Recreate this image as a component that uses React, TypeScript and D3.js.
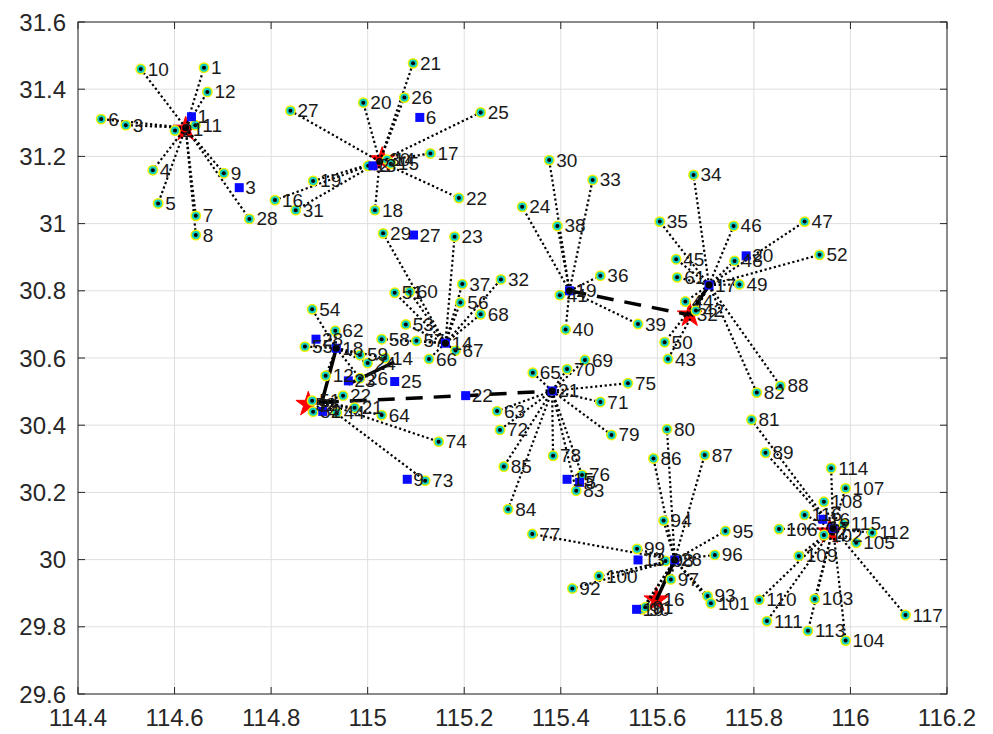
import React from 'react'
import * as d3 from 'd3'

const WIDTH = 993
const HEIGHT = 734
const margin = { top: 22, right: 46, bottom: 40, left: 78 }

type Site = [string, number, number]

const xTicks = [114.4, 114.6, 114.8, 115, 115.2, 115.4, 115.6, 115.8, 116, 116.2]
const xTickLabels = ['114.4', '114.6', '114.8', '115', '115.2', '115.4', '115.6', '115.8', '116', '116.2']
const yTicks = [29.6, 29.8, 30, 30.2, 30.4, 30.6, 30.8, 31, 31.2, 31.4, 31.6]
const yTickLabels = ['29.6', '29.8', '30', '30.2', '30.4', '30.6', '30.8', '31', '31.2', '31.4', '31.6']

// where the dotted lines of each group meet
const hubLon = [114.623, 115.025, 115.418, 115.707, 115.161, 114.935, 114.905, 115.382, 115.636, 115.964]
const hubLat = [31.285, 31.185, 30.8, 30.817, 30.644, 30.629, 30.468, 30.502, 29.999, 30.093]

// members of each group: label, lon, lat
const group1: Site[] = [
  ['1', 114.661, 31.464], ['2', 114.601, 31.277], ['3', 114.499, 31.293], ['4', 114.555, 31.159],
  ['5', 114.566, 31.06], ['6', 114.448, 31.311], ['7', 114.644, 31.023], ['8', 114.644, 30.966],
  ['9', 114.702, 31.15], ['10', 114.53, 31.46], ['11', 114.643, 31.293], ['12', 114.668, 31.392],
  ['28', 114.755, 31.014],
]
const group2: Site[] = [
  ['13', 115.001, 31.172], ['14', 115.04, 31.19], ['15', 115.048, 31.178], ['16', 114.808, 31.07],
  ['17', 115.13, 31.209], ['18', 115.015, 31.04], ['19', 114.887, 31.127], ['20', 114.991, 31.36],
  ['21', 115.094, 31.477], ['22', 115.189, 31.076], ['25', 115.234, 31.331], ['26', 115.076, 31.375],
  ['27', 114.84, 31.336], ['31', 114.851, 31.04],
]
const group3: Site[] = [
  ['24', 115.32, 31.05], ['30', 115.376, 31.189], ['33', 115.466, 31.13], ['36', 115.482, 30.845],
  ['38', 115.393, 30.993], ['39', 115.56, 30.701], ['40', 115.41, 30.685], ['41', 115.398, 30.787],
]
const group4: Site[] = [
  ['34', 115.675, 31.145], ['35', 115.605, 31.006], ['42', 115.68, 30.741], ['43', 115.622, 30.597],
  ['44', 115.658, 30.768], ['45', 115.639, 30.894], ['46', 115.758, 30.993], ['47', 115.905, 31.006],
  ['48', 115.76, 30.889], ['49', 115.77, 30.819], ['50', 115.615, 30.647], ['52', 115.936, 30.907],
  ['61', 115.641, 30.84], ['82', 115.806, 30.497], ['88', 115.855, 30.517],
]
const group5: Site[] = [
  ['23', 115.18, 30.961], ['29', 115.032, 30.971], ['32', 115.276, 30.834], ['37', 115.196, 30.82],
  ['51', 115.056, 30.794], ['53', 115.079, 30.7], ['56', 115.192, 30.765], ['57', 115.101, 30.651],
  ['58', 115.029, 30.656], ['60', 115.087, 30.797], ['66', 115.127, 30.597], ['67', 115.182, 30.622],
  ['68', 115.234, 30.73],
]
const group6: Site[] = [
  ['54', 114.885, 30.745], ['62', 114.933, 30.681], ['55', 114.87, 30.634], ['59', 114.984, 30.609],
  ['24', 115.0, 30.585], ['14', 115.036, 30.6], ['26', 114.984, 30.54], ['12', 114.913, 30.547],
]
const group7: Site[] = [
  ['64', 115.029, 30.43], ['73', 115.119, 30.235], ['74', 115.147, 30.351], ['51', 114.885, 30.473],
  ['52', 114.887, 30.44], ['22', 114.949, 30.488], ['21', 114.973, 30.452], ['44', 114.936, 30.437],
]
const group8: Site[] = [
  ['63', 115.268, 30.442], ['65', 115.342, 30.556], ['69', 115.45, 30.594], ['70', 115.413, 30.567],
  ['71', 115.482, 30.469], ['72', 115.274, 30.386], ['75', 115.539, 30.525], ['76', 115.444, 30.252],
  ['78', 115.384, 30.309], ['79', 115.505, 30.371], ['83', 115.432, 30.205], ['84', 115.291, 30.15],
  ['85', 115.282, 30.277],
]
const group9: Site[] = [
  ['77', 115.341, 30.076], ['80', 115.62, 30.388], ['86', 115.592, 30.301], ['87', 115.698, 30.311],
  ['90', 115.568, 29.852], ['91', 115.575, 29.858], ['92', 115.424, 29.914], ['93', 115.704, 29.892],
  ['94', 115.613, 30.116], ['95', 115.741, 30.085], ['96', 115.719, 30.014], ['97', 115.628, 29.941],
  ['98', 115.617, 29.996], ['99', 115.558, 30.032], ['100', 115.479, 29.951], ['101', 115.711, 29.87],
]
const group10: Site[] = [
  ['81', 115.795, 30.416], ['89', 115.824, 30.318], ['102', 115.945, 30.073], ['103', 115.926, 29.883],
  ['104', 115.99, 29.759], ['105', 116.012, 30.05], ['106', 115.852, 30.091], ['107', 115.99, 30.212],
  ['108', 115.945, 30.172], ['109', 115.893, 30.011], ['110', 115.811, 29.88], ['111', 115.827, 29.817],
  ['112', 116.045, 30.08], ['113', 115.912, 29.788], ['114', 115.96, 30.272], ['115', 115.986, 30.106],
  ['116', 115.905, 30.133], ['117', 116.114, 29.835],
]
const groups = [group1, group2, group3, group4, group5, group6, group7, group8, group9, group10]

// blue squares
const blueSites: Site[] = [
  ['1', 114.635, 31.318], ['3', 114.734, 31.107], ['6', 115.108, 31.316], ['2', 115.011, 31.172],
  ['27', 115.095, 30.966], ['19', 115.418, 30.8], ['17', 115.707, 30.817], ['20', 115.784, 30.904],
  ['14', 115.161, 30.644], ['28', 114.893, 30.656], ['18', 114.935, 30.629], ['23', 114.96, 30.532],
  ['25', 115.056, 30.53], ['22', 115.203, 30.488], ['21', 115.382, 30.502], ['9', 115.082, 30.239],
  ['15', 115.413, 30.239], ['5', 115.439, 30.23], ['13', 115.56, 29.999], ['26', 115.636, 29.999],
  ['10', 115.557, 29.852], ['16', 115.943, 30.12], ['4', 114.907, 30.441], ['7', 115.964, 30.093],
]

// red stars
const starSites: Site[] = [
  ['1', 114.623, 31.281], ['30', 115.03, 31.19], ['32', 115.667, 30.728],
  ['52', 114.877, 30.462], ['16', 115.598, 29.88], ['2', 115.957, 30.082],
]

const dashedPaths: [number, number][][] = [
  [[115.418, 30.8], [115.667, 30.728]],
  [[114.905, 30.468], [115.203, 30.488], [115.382, 30.502]],
]
const solidPaths: [number, number][][] = [
  [[114.935, 30.629], [114.905, 30.468], [114.93, 30.47]],
  [[114.96, 30.522], [115.055, 30.588]],
  [[115.667, 30.728], [115.707, 30.817]],
  [[115.598, 29.88], [115.636, 29.999]],
]

const FONT = "'Liberation Sans', Helvetica, Arial, sans-serif"

export default function App() {
  const x = d3.scaleLinear().domain([114.4, 116.2]).range([margin.left, WIDTH - margin.right])
  const y = d3.scaleLinear().domain([29.6, 31.6]).range([HEIGHT - margin.bottom, margin.top])
  const line = d3.line<[number, number]>().x(d => x(d[0])).y(d => y(d[1]))
  const starPath = d3.symbol().type(d3.symbolStar).size(190)() || ''
  const x0 = margin.left
  const x1 = WIDTH - margin.right
  const y0 = HEIGHT - margin.bottom
  const y1 = margin.top

  return (
    <svg width={WIDTH} height={HEIGHT} style={{ position: 'absolute', left: 0, top: 0, background: '#fff' }}
      fontFamily={FONT}>
      {/* grid */}
      <g stroke="#dfdfdf" strokeWidth={1}>
        {xTicks.map(t => <line key={'gx' + t} x1={x(t)} x2={x(t)} y1={y0} y2={y1} />)}
        {yTicks.map(t => <line key={'gy' + t} x1={x0} x2={x1} y1={y(t)} y2={y(t)} />)}
      </g>

      {/* stars (under the links) */}
      <g fill="#ff0000" stroke="#ff0000">
        {starSites.map((s, i) => (
          <path key={'st' + i} d={starPath} transform={`translate(${x(s[1])},${y(s[2])})`} />
        ))}
      </g>

      {/* dotted links */}
      <g stroke="#000" strokeWidth={2.2} strokeDasharray="2.2 2.6" fill="none">
        {groups.map((g, gi) => g.map((p, i) => (
          <line key={gi + '-' + i} x1={x(hubLon[gi])} y1={y(hubLat[gi])} x2={x(p[1])} y2={y(p[2])} />
        )))}
      </g>

      {/* dashed + solid links */}
      <g stroke="#000" strokeWidth={3.5} fill="none">
        {dashedPaths.map((d, i) => <path key={'d' + i} d={line(d) || ''} strokeDasharray="17 11" />)}
        {solidPaths.map((d, i) => <path key={'s' + i} d={line(d) || ''} />)}
      </g>

      {/* points */}
      {groups.map((g, gi) => g.map((p, i) => (
        <g key={'p' + gi + '-' + i} transform={`translate(${x(p[1])},${y(p[2])})`}>
          <circle r={4.7} fill="#10cfc0" stroke="#eef200" strokeWidth={1.5} />
          <circle r={2} fill="#000" />
        </g>
      )))}

      {/* blue squares */}
      <g fill="#0a0aff">
        {blueSites.map((b, i) => (
          <rect key={'b' + i} x={x(b[1]) - 4.5} y={y(b[2]) - 4.5} width={9} height={9} />
        ))}
      </g>

      {/* hub dots */}
      <g fill="#000">
        {hubLon.map((h, i) => <circle key={'h' + i} cx={x(h)} cy={y(hubLat[i])} r={3.5} />)}
      </g>

      {/* labels */}
      <g fontSize={19} fill="#1a1a1a" dominantBaseline="central">
        {starSites.map((s, i) => (
          <text key={'ts' + i} x={x(s[1]) + 7} y={y(s[2])}>{s[0]}</text>
        ))}
        {blueSites.map((b, i) => (
          <text key={'tb' + i} x={x(b[1]) + 6} y={y(b[2])}>{b[0]}</text>
        ))}
        {groups.map((g, gi) => g.map((p, i) => (
          <text key={'tp' + gi + '-' + i} x={x(p[1]) + 7} y={y(p[2])}>{p[0]}</text>
        )))}
      </g>

      {/* axes box + ticks */}
      <g stroke="#262626" strokeWidth={1} fill="none">
        <rect x={x0} y={y1} width={x1 - x0} height={y0 - y1} />
        {xTicks.map(t => (
          <g key={'tx' + t}>
            <line x1={x(t)} x2={x(t)} y1={y0} y2={y0 - 7} />
            <line x1={x(t)} x2={x(t)} y1={y1} y2={y1 + 7} />
          </g>
        ))}
        {yTicks.map(t => (
          <g key={'ty' + t}>
            <line x1={x0} x2={x0 + 7} y1={y(t)} y2={y(t)} />
            <line x1={x1} x2={x1 - 7} y1={y(t)} y2={y(t)} />
          </g>
        ))}
      </g>
      <g fontSize={24} fill="#262626">
        {xTicks.map((t, i) => (
          <text key={'lx' + t} x={x(t)} y={y0 + 32} textAnchor="middle">{xTickLabels[i]}</text>
        ))}
        {yTicks.map((t, i) => (
          <text key={'ly' + t} x={x0 - 12} y={y(t)} textAnchor="end" dominantBaseline="central">{yTickLabels[i]}</text>
        ))}
      </g>
    </svg>
  )
}
